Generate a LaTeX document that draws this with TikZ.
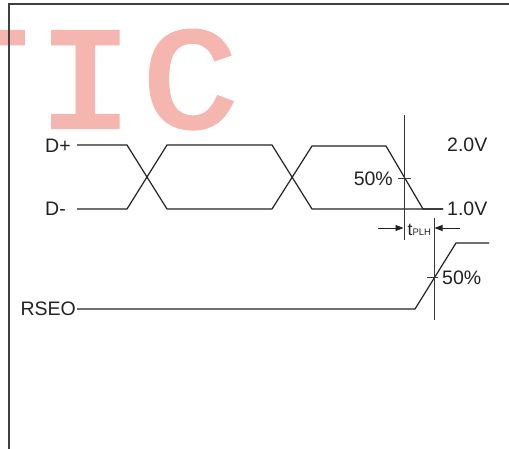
\documentclass[tikz,border=0pt]{standalone}
\usepackage{fontspec}
\setmainfont{Liberation Sans}
\newfontfamily\wmfont[FakeBold=3]{Liberation Mono}
\usetikzlibrary{arrows.meta}
\definecolor{wm}{HTML}{F4B6AE}
\definecolor{ink}{HTML}{222222}
\tikzset{
  wave/.style={draw=ink, line width=1.2pt, line join=miter},
  marker/.style={draw=ink!90, line width=0.9pt},
  frameline/.style={draw=black!75, line width=1.3pt},
  lbl/.style={text=ink, inner sep=0pt, font=\fontsize{19.5}{19.5}\selectfont},
  wml/.style={text=wm, inner sep=0pt, anchor=base, xscale=1.1, font=\wmfont\fontsize{144}{144}\selectfont},
  dimarrow/.style={draw=ink, line width=0.9pt, -{Triangle[length=8pt,width=6pt]}}
}
\begin{document}
\begin{tikzpicture}[x=1pt,y=-1pt]
\useasboundingbox (0,0) rectangle (509,449);
% watermark
\begin{scope}
\clip (0,0) rectangle (509,449);
\node[wml] (wt) at (-19,127) {T};
\node[wml] (wi) at (85.5,127) {I};
\node[wml] (wc) at (190,127) {C};
\end{scope}
% frame
\coordinate (fb) at (9,449);
\coordinate (fc) at (9,4);
\coordinate (fr) at (509,4);
\draw[frameline] (fb) -- (fc) -- (fr);
% labels
\node[lbl, anchor=west] (dp) at (45,146) {D+};
\node[lbl, anchor=west] (dm) at (45,209) {D-};
\node[lbl, anchor=east] (rseo) at (76,309) {RSEO};
\node[lbl, anchor=west] (v2) at (447,144.5) {2.0V};
\node[lbl, anchor=west] (v1) at (447,208.5) {1.0V};
\node[lbl, anchor=east] (p1) at (393,178.5) {50\%};
\node[lbl, anchor=west] (p2) at (442,278) {50\%};
\node[text=ink, inner sep=0pt, anchor=base west] (tplh) at (407.5,235.7)
  {\fontsize{17.5}{17.5}\selectfont t\fontsize{9.5}{9.5}\selectfont PLH};
% D+ waveform
\coordinate (a0) at (77,145);
\coordinate (a1) at (127,145);
\coordinate (a2) at (167,209);
\coordinate (a3) at (272,209);
\coordinate (a4) at (312,146);
\coordinate (a5) at (386,146);
\coordinate (a6) at (423,209);
\coordinate (a7) at (443,209);
\draw[wave] (a0) -- (a1) -- (a2) -- (a3) -- (a4) -- (a5) -- (a6) -- (a7);
% D- waveform
\coordinate (b0) at (77,209);
\coordinate (b1) at (127,209);
\coordinate (b2) at (167,145);
\coordinate (b3) at (272,145);
\coordinate (b4) at (312,209);
\draw[wave] (b0) -- (b1) -- (b2) -- (b3) -- (b4) -- (a7);
% RSEO waveform
\coordinate (r0) at (77,309);
\coordinate (r1) at (415,309);
\coordinate (r2) at (456,243);
\coordinate (r3) at (489,243);
\draw[wave] (r0) -- (r1) -- (r2) -- (r3);
% markers
\coordinate (m1t) at (404,115);
\coordinate (m1b) at (404,240);
\draw[marker] (m1t) -- (m1b);
\coordinate (k1l) at (398,178);
\coordinate (k1r) at (411,178);
\draw[marker] (k1l) -- (k1r);
\coordinate (m2t) at (434,218);
\coordinate (m2b) at (434,320);
\draw[marker] (m2t) -- (m2b);
\coordinate (k2l) at (427,277);
\coordinate (k2r) at (438,277);
\draw[marker] (k2l) -- (k2r);
% tPLH arrows
\coordinate (al) at (378,228);
\coordinate (alt) at (403.5,228);
\coordinate (ar) at (460,228);
\coordinate (art) at (434.5,228);
\draw[dimarrow] (al) -- (alt);
\draw[dimarrow] (ar) -- (art);
\end{tikzpicture}
\end{document}
